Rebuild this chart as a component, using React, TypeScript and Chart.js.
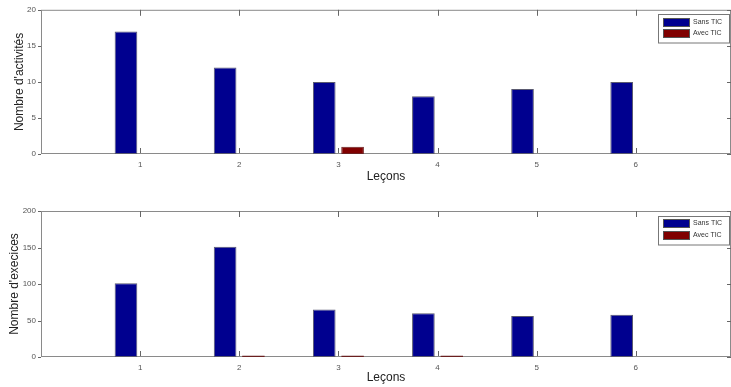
import React, { useEffect, useRef } from "react";
import { Chart, registerables } from "chart.js";

Chart.register(...registerables);

const lessons = [1, 2, 3, 4, 5, 6];
const seriesLabels = ["Sans TIC", "Avec TIC"];
const activitesSans = [17, 12, 10, 8, 9, 10];
const activitesAvec = [0, 0, 1, 0, 0, 0];
const exercicesSans = [101, 151, 65, 60, 56, 58];
const exercicesAvec = [0, 2, 2, 2, 0, 0];
const topYTicks = [0, 5, 10, 15, 20];
const bottomYTicks = [0, 50, 100, 150, 200];

const BLUE = "#00008f";
const RED = "#800000";
const FONT = "'Liberation Sans', Arial, sans-serif";

const framePlugin = {
  id: "matlabFrame",
  beforeDatasetsDraw(chart: any) {
    const { ctx, chartArea } = chart;
    const { left, right, top, bottom } = chartArea;
    ctx.save();
    ctx.lineWidth = 1;
    ctx.strokeStyle = "#8a8a8a";
    ctx.strokeRect(left + 0.5, top + 0.5, right - left - 1, bottom - top - 1);
    ctx.restore();
  },
  afterDraw(chart: any) {
    const { ctx, chartArea, scales } = chart;
    const { left, right, top, bottom } = chartArea;
    const x = scales.x;
    const y = scales.y;
    const line = (x1: number, y1: number, x2: number, y2: number) => {
      ctx.beginPath();
      ctx.moveTo(x1, y1);
      ctx.lineTo(x2, y2);
      ctx.stroke();
    };
    ctx.save();
    ctx.lineWidth = 1;
    ctx.strokeStyle = "#666";
    x.ticks.forEach((t: any) => {
      const px = Math.round(x.getPixelForValue(t.value)) + 0.5;
      line(px, bottom - 1, px, bottom - 6);
      line(px, top, px, top + 6);
    });
    y.ticks.forEach((t: any) => {
      const py = Math.round(y.getPixelForValue(t.value)) + 0.5;
      line(left - 3, py, left, py);
      line(right - 4, py, right, py);
    });
    // legend
    const bw = 71;
    const bh = 28.5;
    const bx = right - 2 - bw;
    const by = top + 4.5;
    ctx.fillStyle = "#fff";
    ctx.fillRect(bx, by, bw, bh);
    ctx.strokeStyle = "#777";
    ctx.strokeRect(Math.round(bx) + 0.5, Math.round(by) + 0.5, bw, bh);
    ctx.font = `7px ${FONT}`;
    ctx.textBaseline = "middle";
    chart.data.datasets.forEach((ds: any, i: number) => {
      const sy = Math.round(by + 3.5 + i * 11.5);
      ctx.fillStyle = ds.backgroundColor;
      ctx.fillRect(Math.round(bx) + 5, sy, 27, 8.5);
      ctx.strokeStyle = "#555";
      ctx.strokeRect(Math.round(bx) + 5.5, sy + 0.5, 26, 8);
      ctx.fillStyle = "#333";
      ctx.fillText(ds.label, Math.round(bx) + 35, sy + 4.5);
    });
    ctx.restore();
  },
};

function makeConfig(
  sans: number[],
  avec: number[],
  yTicks: number[],
  yTitle: string,
  padTop: number,
  xAxisHeight: number,
  xTitlePadBottom: number,
  yTitlePadTop: number
): any {
  const border = (ctx: any) => (ctx.raw && ctx.raw.y === 0 ? 0 : 1);
  return {
    type: "bar",
    data: {
      datasets: [
        {
          label: seriesLabels[0],
          data: lessons.map((l, i) => ({ x: l, y: sans[i] })),
          backgroundColor: BLUE,
          borderColor: "#5a5a70",
          borderWidth: border,
          borderSkipped: false,
        },
        {
          label: seriesLabels[1],
          data: lessons.map((l, i) => ({ x: l, y: avec[i] })),
          backgroundColor: RED,
          borderColor: "#6a2020",
          borderWidth: border,
          borderSkipped: false,
        },
      ],
    },
    options: {
      responsive: false,
      animation: false,
      devicePixelRatio: 1,
      layout: { padding: { top: padTop, left: 0, right: 0, bottom: 0 } },
      categoryPercentage: 0.5714,
      barPercentage: 0.8,
      plugins: {
        legend: { display: false },
        tooltip: { enabled: false },
      },
      scales: {
        x: {
          type: "linear",
          min: 0,
          max: 6.96,
          offset: false,
          grid: { display: false, drawTicks: false, offset: false },
          border: { display: false },
          afterBuildTicks: (scale: any) => {
            scale.ticks = lessons.map((v) => ({ value: v }));
          },
          afterFit: (scale: any) => {
            scale.height = xAxisHeight;
          },
          ticks: {
            padding: 6,
            color: "#555",
            font: { family: FONT, size: 8 },
            maxRotation: 0,
            autoSkip: false,
            callback: (v: any) => String(v),
          },
          title: {
            display: true,
            text: "Leçons",
            color: "#222",
            font: { family: FONT, size: 12 },
            padding: { top: 0, bottom: xTitlePadBottom },
          },
        },
        y: {
          type: "linear",
          min: yTicks[0],
          max: yTicks[yTicks.length - 1],
          grid: { display: false, drawTicks: false },
          border: { display: false },
          afterBuildTicks: (scale: any) => {
            scale.ticks = yTicks.map((v) => ({ value: v }));
          },
          afterFit: (scale: any) => {
            scale.width = 41;
          },
          ticks: {
            padding: 5,
            color: "#555",
            font: { family: FONT, size: 8 },
            callback: (v: any) => String(v),
          },
          title: {
            display: true,
            text: yTitle,
            color: "#222",
            font: { family: FONT, size: 12 },
            padding: { top: yTitlePadTop, bottom: 0 },
          },
        },
      },
    },
    plugins: [framePlugin],
  };
}

export default function App() {
  const topRef = useRef<HTMLCanvasElement>(null);
  const botRef = useRef<HTMLCanvasElement>(null);

  useEffect(() => {
    const c1 = new Chart(
      topRef.current as HTMLCanvasElement,
      makeConfig(activitesSans, activitesAvec, topYTicks, "Nombre d'activités", 9, 39, 8.8, 12.8)
    );
    const c2 = new Chart(
      botRef.current as HTMLCanvasElement,
      makeConfig(exercicesSans, exercicesAvec, bottomYTicks, "Nombre d'execices", 18, 30, 2.3, 7.8)
    );
    return () => {
      c1.destroy();
      c2.destroy();
    };
  }, []);

  return (
    <div style={{ position: "fixed", left: 0, top: 0, width: 731, height: 387, background: "#fff" }}>
      <canvas ref={topRef} width={731} height={193} style={{ display: "block", width: 731, height: 193 }} />
      <canvas ref={botRef} width={731} height={194} style={{ display: "block", width: 731, height: 194 }} />
    </div>
  );
}
